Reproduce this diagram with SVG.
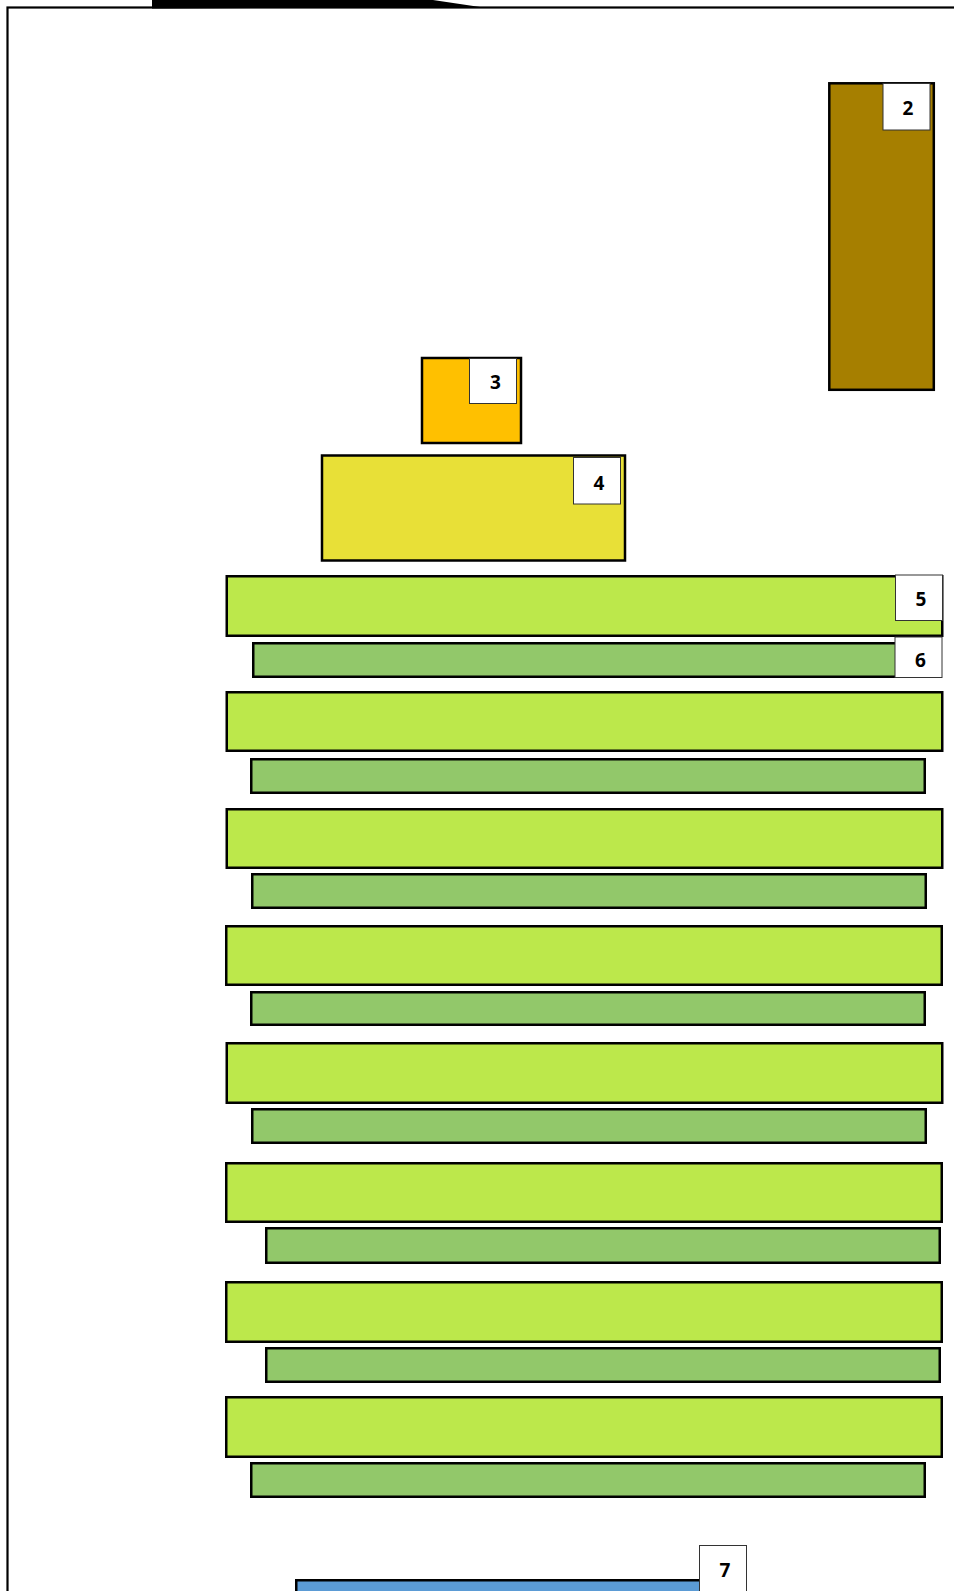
<svg xmlns="http://www.w3.org/2000/svg" width="954" height="1591" viewBox="0 0 954 1591">
<style>
.box{stroke:#000;stroke-width:2.5}
.lg{fill:#BCE84B}
.dg{fill:#92C86A}
.lbl{fill:#fff;stroke:#333;stroke-width:1}
.t{font-family:"Open Sans","Liberation Sans",sans-serif;font-weight:bold;font-size:19px;fill:#000;text-anchor:middle;dominant-baseline:central}
</style>
<rect width="954" height="1591" fill="#fff"/>
<g id="frame">
<rect x="7.5" y="7.5" width="1000" height="1650" fill="none" stroke="#000" stroke-width="2.2"/>
<polygon points="152,0 433,0 480,7 152,8.5" fill="#000"/>
</g>
<g id="node2">
<rect class="box" x="829.3" y="83.3" width="104.5" height="306.5" fill="#A67F00"/>
<rect class="lbl" x="883" y="83.5" width="47" height="46.5"/>
<text class="t" x="908" y="108">2</text>
</g>
<g id="node3">
<rect class="box" x="422" y="358" width="99" height="85" fill="#FFC000"/>
<rect class="lbl" x="469.5" y="358.5" width="47" height="45"/>
<text class="t" x="495.5" y="382">3</text>
</g>
<g id="node4">
<rect class="box" x="322" y="455.5" width="303" height="105" fill="#E8E037"/>
<rect class="lbl" x="573.5" y="457.5" width="47" height="46.5"/>
<text class="t" x="599" y="483">4</text>
</g>
<g id="rows">
<rect class="box lg" x="226.75" y="576.25" width="715.5" height="59.5"/>
<rect class="box dg" x="253.25" y="643.25" width="673.5" height="33.5"/>
<rect class="box lg" x="226.75" y="692.25" width="715.5" height="58.5"/>
<rect class="box dg" x="251.25" y="759.25" width="673.5" height="33.5"/>
<rect class="box lg" x="226.75" y="809.25" width="715.5" height="58.5"/>
<rect class="box dg" x="252.25" y="874.25" width="673.5" height="33.5"/>
<rect class="box lg" x="226.25" y="926.25" width="715.5" height="58.5"/>
<rect class="box dg" x="251.25" y="992.25" width="673.5" height="32.5"/>
<rect class="box lg" x="226.75" y="1043.25" width="715.5" height="59.5"/>
<rect class="box dg" x="252.25" y="1109.25" width="673.5" height="33.5"/>
<rect class="box lg" x="226.25" y="1163.25" width="715.5" height="58.5"/>
<rect class="box dg" x="266.25" y="1228.25" width="673.5" height="34.5"/>
<rect class="box lg" x="226.25" y="1282.25" width="715.5" height="59.5"/>
<rect class="box dg" x="266.25" y="1348.25" width="673.5" height="33.5"/>
<rect class="box lg" x="226.25" y="1397.25" width="715.5" height="59.5"/>
<rect class="box dg" x="251.25" y="1463.25" width="673.5" height="33.5"/>
</g>
<g id="node5">
<rect class="lbl" x="895.5" y="575" width="47" height="45.5"/>
<text class="t" x="921" y="598.5">5</text>
</g>
<g id="node6">
<rect class="lbl" x="895" y="637" width="47" height="40.5"/>
<text class="t" x="920.5" y="660">6</text>
</g>
<g id="node7">
<rect class="box" x="296.25" y="1580.25" width="448" height="30" fill="#5B9BD5"/>
<rect class="lbl" x="699.5" y="1545.5" width="47" height="50"/>
<text class="t" x="725" y="1570">7</text>
</g>
<g id="connectors"/>
</svg>
